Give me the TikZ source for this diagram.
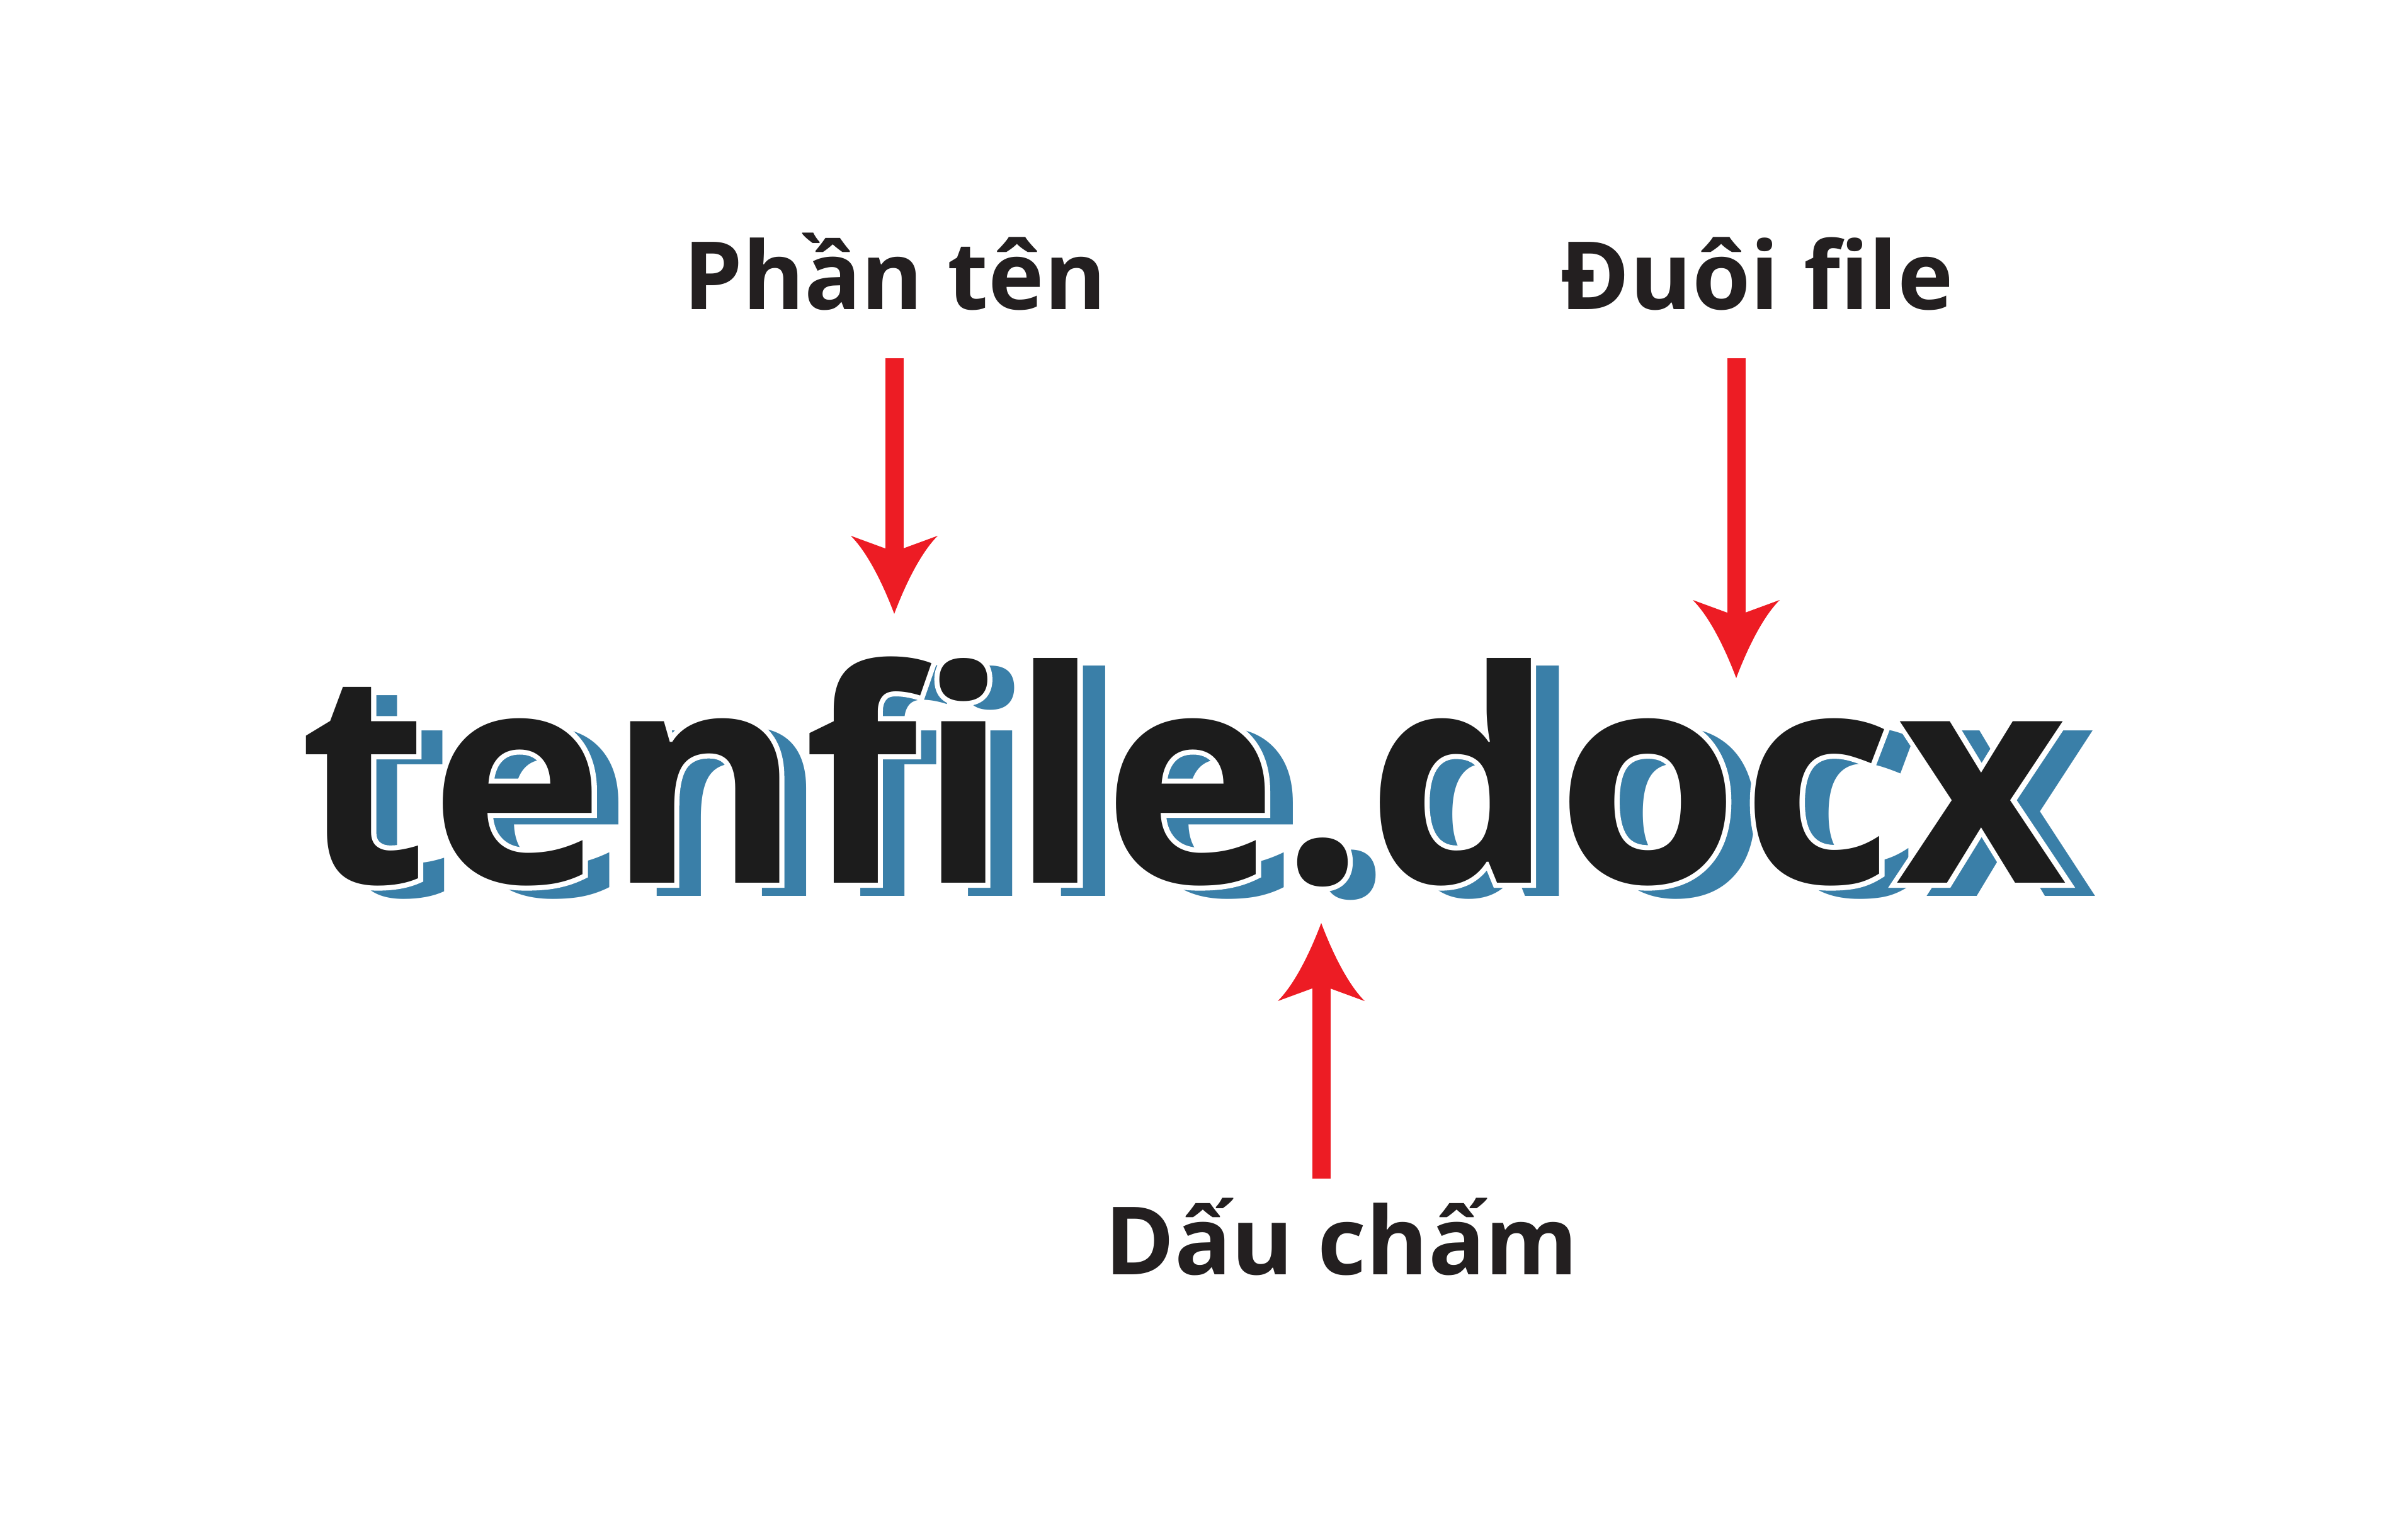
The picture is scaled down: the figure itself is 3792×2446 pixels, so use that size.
\documentclass[tikz,border=0pt]{standalone}
\usepackage{graphicx}
\usepackage{fontspec}
\setmainfont{Open Sans}
\newfontfamily\wordfont{Open Sans}[LetterSpace=0.75]
\newfontfamily\halofont{Open Sans}[LetterSpace=0.75, BoldFeatures={FakeBold=3.4}]
\usetikzlibrary{calc}
\definecolor{inkblack}{HTML}{1C1C1C}
\definecolor{tagblack}{HTML}{231F20}
\definecolor{shadowblue}{HTML}{3A7FA8}
\definecolor{arrowred}{HTML}{ED1C24}
\tikzset{
  bigword/.style={font=\wordfont\fontsize{133.7pt}{150pt}\selectfont\bfseries, inner sep=0pt, anchor=base},
  haloword/.style={font=\halofont\fontsize{133.7pt}{150pt}\selectfont\bfseries, inner sep=0pt, anchor=base, text=white},
  tagtext/.style={font=\fontsize{42.6pt}{50pt}\selectfont\bfseries, text=tagblack, anchor=base, inner xsep=0pt, text height=10.7mm, text depth=0pt},
  shaft/.style={draw=arrowred, line width=2.9mm},
  kite/.pic={\fill[arrowred] (0,0) .. controls (-15,-40) and (-40,-95) .. (-69,-124) -- (-14.5,-104) -- (14.5,-104) -- (69,-124) .. controls (40,-95) and (15,-40) .. (0,0) -- cycle;}
}
\begin{document}
\begin{tikzpicture}[x=0.1mm,y=-0.1mm]
\fill[white] (0,0) rectangle (3792,2446);
\useasboundingbox (0,0) rectangle (3792,2446);
% main word
\coordinate (wc) at (1879,1402);
\node[bigword, text=shadowblue] (shadow) at ($(wc)+(44,21)$) {\scalebox{1.002}[1.025]{tenfile.docx}};
\node[haloword] (halo) at (wc) {tenfile.docx};
\node[bigword, text=inkblack] (word) at (wc) {tenfile.docx};
% labels
\node[tagtext, inner ysep=7.6mm] (lab1) at (1421,492) {Phần tên};
\node[tagtext, inner ysep=7.6mm] (lab2) at (2790,492) {Đuôi file};
\node[tagtext, inner ysep=4.4mm] (lab3) at (2130,2024) {Dấu chấm};
% arrows
\coordinate (tip1) at (1420,975);
\coordinate (tip2) at (2757,1077);
\coordinate (tip3) at (2098,1466);
\draw[shaft] (tip1 |- lab1.south) -- ($(tip1)+(0,-100)$);
\path (tip1) pic {kite};
\draw[shaft] (tip2 |- lab2.south) -- ($(tip2)+(0,-100)$);
\path (tip2) pic {kite};
\draw[shaft] (tip3 |- lab3.north) -- ($(tip3)+(0,100)$);
\path (tip3) pic[yscale=-1] {kite};
\end{tikzpicture}
\end{document}
